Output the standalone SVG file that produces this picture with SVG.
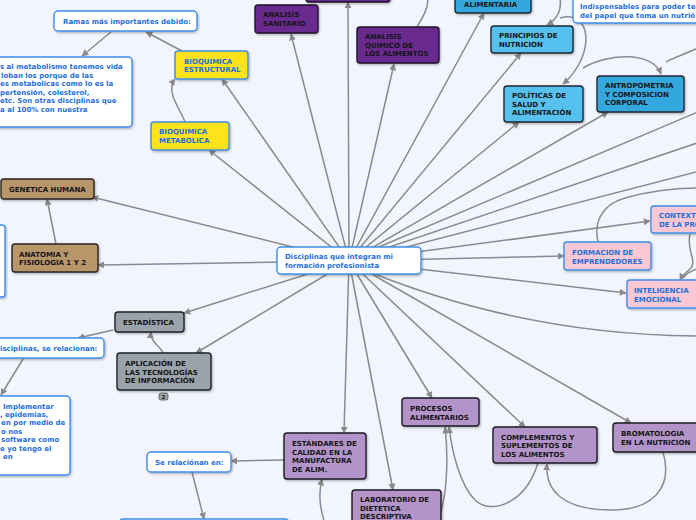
<svg xmlns="http://www.w3.org/2000/svg" width="696" height="520" viewBox="0 0 696 520">
<defs>
<marker id="ah" viewBox="0 0 10 10" refX="9" refY="5" markerWidth="7" markerHeight="7" markerUnits="userSpaceOnUse" orient="auto">
<path d="M0,0 L10,5 L0,10 z" fill="#8a8a8a"/>
</marker>
<filter id="sh" x="-10%" y="-10%" width="130%" height="140%">
<feDropShadow dx="1" dy="1.2" stdDeviation="0.8" flood-color="#000" flood-opacity="0.3"/>
</filter>
</defs>
<style>
.c{fill:none;stroke:#8a8a8a;stroke-width:1.5;marker-end:url(#ah)}
.cn{fill:none;stroke:#8a8a8a;stroke-width:1.5}
text{font-family:"DejaVu Sans",Verdana,sans-serif;font-weight:bold;font-size:7px}
.tb{fill:#1f6fd8}
.tk{fill:#151515}
rect{filter:url(#sh)}
.w{fill:#fff;stroke:#3f8fe8;stroke-width:1.4}
.y{fill:#fde21b;stroke:#3f8fe8;stroke-width:1.4}
.p{fill:#67298f;stroke:#231428;stroke-width:1.4}
.b1{fill:#56c0ee;stroke:#1d2833;stroke-width:1.4}
.b2{fill:#35a7df;stroke:#1d2833;stroke-width:1.4}
.tan{fill:#b9966a;stroke:#2a2520;stroke-width:1.4}
.g{fill:#9aa3aa;stroke:#1e2124;stroke-width:1.4}
.pk{fill:#f9c8d4;stroke:#3f8fe8;stroke-width:1.4}
.lp{fill:#b294c8;stroke:#1e1a22;stroke-width:1.4}
</style>
<rect x="0" y="0" width="696" height="520" fill="#f2f5fd" style="filter:none"/>

<g id="connectors">
<path class="c" d="M349 261 L291 34"/>
<path class="c" d="M349 261 L348 2"/>
<path class="c" d="M349 261 L394 64"/>
<path class="c" d="M349 261 L484 13"/>
<path class="c" d="M349 261 L521 53"/>
<path class="c" d="M349 261 L519 122"/>
<path class="c" d="M349 261 L608 112"/>
<path class="cn" d="M360 255 L700 111"/>
<path class="cn" d="M360 257 L700 142"/>
<path class="cn" d="M360 259 L700 171"/>
<path class="c" d="M349 261 L650 221"/>
<path class="c" d="M349 261 L564 256"/>
<path class="c" d="M349 261 L626 293"/>
<path class="cn" d="M360 268 Q 520 335 700 336"/>
<path class="c" d="M349 261 L631 423"/>
<path class="c" d="M349 261 L525 427"/>
<path class="c" d="M349 261 L432 398"/>
<path class="c" d="M349 261 L393 490"/>
<path class="c" d="M349 261 L344 433"/>
<path class="c" d="M349 261 L196 353"/>
<path class="c" d="M349 261 L184 313"/>
<path class="c" d="M349 261 L98 265"/>
<path class="c" d="M349 261 L92 197"/>
<path class="c" d="M349 261 L209 150"/>
<path class="c" d="M349 261 L222 79"/>

<path class="c" d="M182 51 L146 32"/>
<path class="c" d="M111 32 L82 56"/>
<path class="c" d="M185 122 C 181 110, 165 92, 175 79"/>
<path class="c" d="M56 244 L47 199"/>
<path class="c" d="M163 353 C 160 345, 150 343, 151 332"/>
<path class="c" d="M113 330 L78 338"/>
<path class="c" d="M23 359 L1 395"/>
<path class="c" d="M284 460 L231 461"/>
<path class="c" d="M192 472 L204 519"/>
<path class="c" d="M325 524 C 320 508, 318 495, 322 479"/>
<path class="c" d="M440 515 C 448 490, 448 452, 445 427"/>
<path class="c" d="M538 463 C 525 505, 490 515, 475 500 C 460 485, 452 452, 449 427"/>
<path class="c" d="M663 452 C 674 490, 650 510, 612 510 C 562 510, 545 490, 547 464"/>
<path class="cn" d="M598 242 C 594 224, 600 205, 625 198 C 650 191, 680 188, 700 188"/>
<path class="c" d="M690 234 C 686 250, 697 260, 691 268 C 686 273, 682 276, 680 280"/>
<path class="cn" d="M700 268 C 692 270, 686 274, 683 278"/>
<path class="cn" d="M417 27 C 422 18, 428 10, 428 -2"/>
<path class="c" d="M560 -2 C 562 12, 556 20, 547 25"/>
<path class="c" d="M560 18 C 592 9, 596 55, 563 84"/>
<path class="c" d="M583 68 C 605 54, 652 50, 661 74"/>
<path class="cn" d="M700 47 C 686 54, 672 58, 666 62"/>
</g>

<g id="n-center"><rect class="w" x="277" y="247" width="144" height="27" rx="4"/>
<text class="tb" x="285" y="259">Disciplinas que integran mi</text>
<text class="tb" x="285" y="268">formación profesionista</text></g>

<g id="n-ramas"><rect class="w" x="54" y="11" width="143" height="20" rx="4"/>
<text class="tb" x="63" y="24">Ramas más importantes debido:</text></g>

<g id="n-ramas-texto"><rect class="w" x="-10" y="57" width="142" height="70" rx="4"/>
<text class="tb" x="0" y="69">s al metabolismo tenemos vida</text>
<text class="tb" x="1" y="78">loban los porque de las</text>
<text class="tb" x="0" y="86">es metabolicas como lo es la</text>
<text class="tb" x="0" y="95">pertensión, colesterol,</text>
<text class="tb" x="0" y="103">etc. Son otras disciplinas que</text>
<text class="tb" x="0" y="112">a al 100% con nuestra</text></g>

<g id="n-bioq-estructural"><rect class="y" x="175" y="51" width="73" height="28" rx="3"/>
<text class="tb" x="184" y="63.5">BIOQUIMICA</text>
<text class="tb" x="184" y="72">ESTRUCTURAL</text></g>

<g id="n-bioq-metabolica"><rect class="y" x="151" y="122" width="78" height="28" rx="3"/>
<text class="tb" x="159" y="134">BIOQUIMICA</text>
<text class="tb" x="159" y="143">METABOLICA</text></g>

<g id="n-purple-top"><rect class="p" x="306" y="-20" width="84" height="22" rx="3"/></g>

<g id="n-analisis-sanitario"><rect class="p" x="255" y="5" width="63" height="28" rx="3"/>
<text class="tk" x="263" y="17">ANALISIS</text>
<text class="tk" x="263" y="26">SANITARIO</text></g>

<g id="n-analisis-quimico"><rect class="p" x="357" y="27" width="82" height="36" rx="3"/>
<text class="tk" x="365" y="39">ANALISIS</text>
<text class="tk" x="365" y="47.5">QUIMICO DE</text>
<text class="tk" x="365" y="56">LOS ALIMENTOS</text></g>

<g id="n-alimentaria"><rect class="b2" x="455" y="-20" width="76" height="33" rx="3"/>
<text class="tk" x="464" y="6.5">ALIMENTARIA</text></g>

<g id="n-indispensables"><rect class="w" x="573" y="-20" width="140" height="43" rx="4"/>
<text class="tb" x="580" y="8.5">Indispensables para poder ten</text>
<text class="tb" x="580" y="17.5">del papel que toma un nutrió</text></g>

<g id="n-principios"><rect class="b1" x="491" y="26" width="82" height="27" rx="3"/>
<text class="tk" x="499" y="38">PRINCIPIOS DE</text>
<text class="tk" x="499" y="47">NUTRICION</text></g>

<g id="n-politicas"><rect class="b1" x="504" y="86" width="79" height="36" rx="3"/>
<text class="tk" x="512" y="98">POLÍTICAS DE</text>
<text class="tk" x="512" y="106.5">SALUD Y</text>
<text class="tk" x="512" y="115">ALIMENTACIÓN</text></g>

<g id="n-antropometria"><rect class="b2" x="597" y="76" width="87" height="36" rx="3"/>
<text class="tk" x="605" y="88">ANTROPOMETRIA</text>
<text class="tk" x="605" y="96.5">Y COMPOSICION</text>
<text class="tk" x="605" y="105">CORPORAL</text></g>

<g id="n-genetica"><rect class="tan" x="1" y="179" width="93" height="20" rx="3"/>
<text class="tk" x="9" y="192">GENETICA HUMANA</text></g>

<g id="n-anatomia"><rect class="tan" x="12" y="244" width="86" height="28" rx="3"/>
<text class="tk" x="19" y="256.5">ANATOMIA Y</text>
<text class="tk" x="19" y="265">FISIOLOGIA 1 Y 2</text></g>

<g id="n-left-box"><rect class="w" x="-10" y="225" width="15" height="72" rx="3"/></g>

<g id="n-contexto"><rect class="pk" x="651" y="206" width="60" height="27" rx="3"/>
<text class="tb" x="659" y="218">CONTEXTO</text>
<text class="tb" x="659" y="227">DE LA PRO</text></g>

<g id="n-formacion"><rect class="pk" x="564" y="242" width="87" height="28" rx="3"/>
<text class="tb" x="572" y="255">FORMACION DE</text>
<text class="tb" x="572" y="263.5">EMPRENDEDORES</text></g>

<g id="n-inteligencia"><rect class="pk" x="627" y="280" width="80" height="28" rx="3"/>
<text class="tb" x="634" y="293">INTELIGENCIA</text>
<text class="tb" x="634" y="301.5">EMOCIONAL</text></g>

<g id="n-estadistica"><rect class="g" x="115" y="312" width="69" height="20" rx="3"/>
<text class="tk" x="123" y="324.5">ESTADÍSTICA</text></g>

<g id="n-aplicacion"><rect class="g" x="117" y="353" width="94" height="37" rx="3"/>
<text class="tk" x="125" y="366">APLICACIÓN DE</text>
<text class="tk" x="125" y="374.5">LAS TECNOLOGÍAS</text>
<text class="tk" x="125" y="383">DE INFORMACIÓN</text>
<rect x="159" y="393" width="9" height="7" rx="2" fill="#9aa3aa" stroke="#555" stroke-width="0.8" style="filter:none"/>
<text x="163.5" y="399" text-anchor="middle" style="font-size:5.5px;fill:#222">2</text></g>

<g id="n-disciplinas-rel"><rect class="w" x="-10" y="338" width="114" height="20" rx="4"/>
<text class="tb" x="0" y="351">isciplinas, se relacionan:</text></g>

<g id="n-implementar"><rect class="w" x="-10" y="396" width="80" height="79" rx="4"/>
<text class="tb" x="3" y="408.5">Implementar</text>
<text class="tb" x="0" y="417">, epidemias,</text>
<text class="tb" x="1" y="425">en por medio de</text>
<text class="tb" x="1" y="433.5">o nos</text>
<text class="tb" x="1" y="442">software como</text>
<text class="tb" x="0" y="451">e yo tengo el</text>
<text class="tb" x="3" y="459">en</text></g>

<g id="n-se-relacionan"><rect class="w" x="147" y="452" width="84" height="20" rx="4"/>
<text class="tb" x="155" y="464.5">Se relaciónan en:</text></g>

<g id="n-bottom-box"><rect class="w" x="119" y="519" width="170" height="20" rx="4"/></g>

<g id="n-estandares"><rect class="lp" x="284" y="433" width="82" height="46" rx="3"/>
<text class="tk" x="292" y="446">ESTÁNDARES DE</text>
<text class="tk" x="292" y="454.5">CALIDAD EN LA</text>
<text class="tk" x="292" y="463">MANUFACTURA</text>
<text class="tk" x="292" y="471.5">DE ALIM.</text></g>

<g id="n-procesos"><rect class="lp" x="402" y="398" width="77" height="28" rx="3"/>
<text class="tk" x="410" y="411">PROCESOS</text>
<text class="tk" x="410" y="419.5">ALIMENTARIOS</text></g>

<g id="n-laboratorio"><rect class="lp" x="352" y="490" width="89" height="40" rx="3"/>
<text class="tk" x="360" y="502">LABORATORIO DE</text>
<text class="tk" x="360" y="510.5">DIETETICA</text>
<text class="tk" x="360" y="519">DESCRIPTIVA</text></g>

<g id="n-complementos"><rect class="lp" x="493" y="427" width="104" height="36" rx="3"/>
<text class="tk" x="501" y="439.5">COMPLEMENTOS Y</text>
<text class="tk" x="501" y="448">SUPLEMENTOS DE</text>
<text class="tk" x="501" y="456.5">LOS ALIMENTOS</text></g>

<g id="n-bromatologia"><rect class="lp" x="613" y="423" width="92" height="29" rx="3"/>
<text class="tk" x="621" y="436">BROMATOLOGIA</text>
<text class="tk" x="621" y="444.5">EN LA NUTRICION</text></g>
</svg>
